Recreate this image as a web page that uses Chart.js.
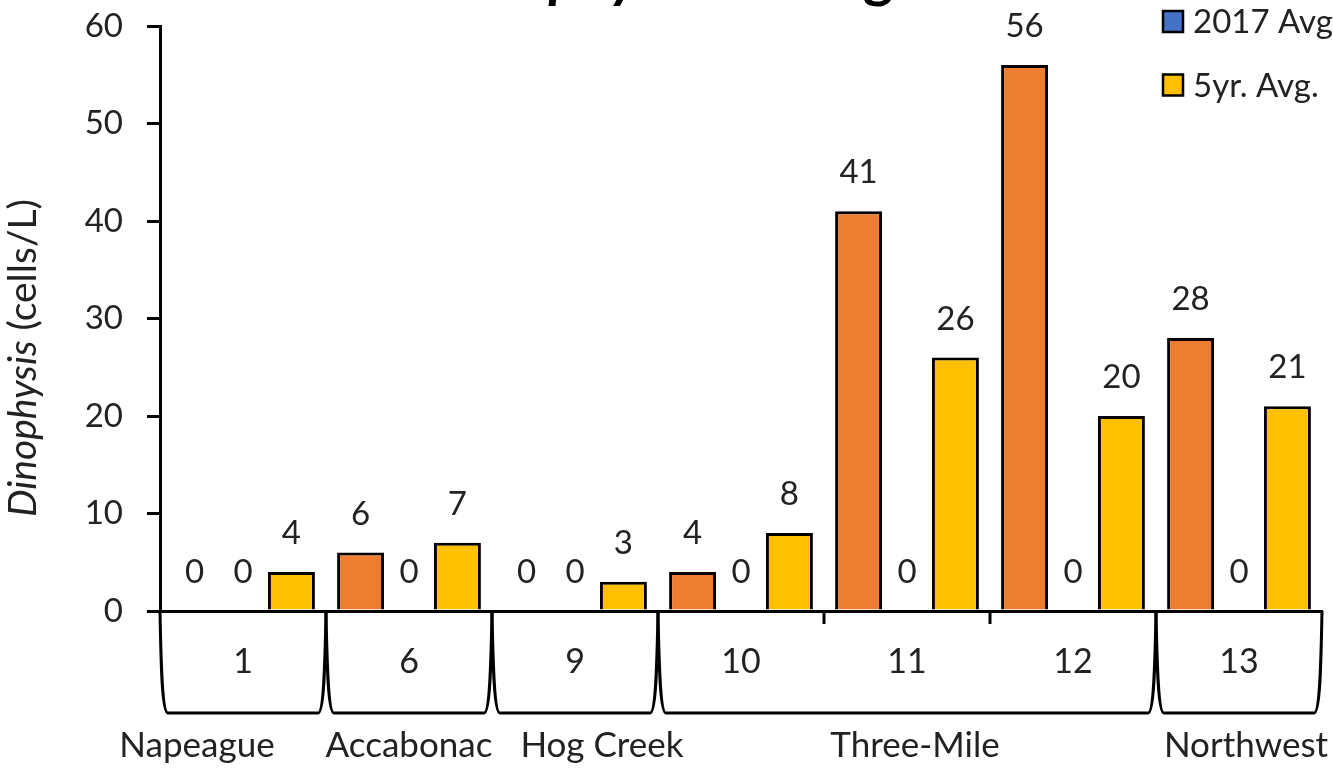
<!DOCTYPE html>
<html>
<head>
<meta charset="utf-8">
<title>Dinophysis Averages</title>
<script src="https://cdn.jsdelivr.net/npm/chart.js@4.4.1/dist/chart.umd.min.js"></script>
<style>
  html, body { margin: 0; padding: 0; background: #fff; }
  #wrap { width: 1333px; height: 769px; position: relative; overflow: hidden; }
</style>
</head>
<body>
<div id="wrap"><canvas id="chart" width="1333" height="769"></canvas></div>
<script>
// Stations (inner category level) and the harbor each group of stations belongs to
const stations = ['1', '6', '9', '10', '11', '12', '13'];
const harbors = ['Napeague', 'Accabonac', 'Hog Creek', 'Three-Mile', 'Northwest'];
const stationsPerHarbor = [1, 1, 1, 3, 1];

// Dinophysis cell counts (cells/L)
const avg2018 = [0, 6, 0, 4, 41, 56, 28];
const avg2017 = [0, 0, 0, 0, 0, 0, 0];
const avg5yr = [4, 7, 3, 8, 26, 20, 21];

const seriesNames = ['2018 Avg.', '2017 Avg.', '5yr. Avg.'];
const seriesColors = ['#ED7D31', '#4472C4', '#FFC000'];
const yTicks = [0, 10, 20, 30, 40, 50, 60];

const FONT = 'Lato, "Open Sans", sans-serif';
const TEXT = '#222222';

// Value labels above every bar
const valueLabels = {
  id: 'valueLabels',
  afterDatasetsDraw(chart) {
    const { ctx } = chart;
    ctx.save();
    ctx.font = `33px ${FONT}`;
    ctx.fillStyle = TEXT;
    ctx.textAlign = 'center';
    ctx.textBaseline = 'alphabetic';
    chart.data.datasets.forEach((ds, i) => {
      chart.getDatasetMeta(i).data.forEach((bar, j) => {
        ctx.fillText(String(ds.data[j]), bar.x, bar.y - 28);
      });
    });
    ctx.restore();
  }
};

// Harbor brackets and names under the station labels
const harborAxis = {
  id: 'harborAxis',
  afterDraw(chart, args, opts) {
    const { ctx, chartArea } = chart;
    const x = chart.scales.x;
    const top = chartArea.bottom;
    const bottom = top + 102;
    const half = (x.getPixelForValue(1) - x.getPixelForValue(0)) / 2;
    ctx.save();
    ctx.strokeStyle = '#000';
    ctx.lineWidth = 3;
    ctx.font = `35px ${FONT}`;
    ctx.fillStyle = TEXT;
    ctx.textAlign = 'center';
    ctx.textBaseline = 'alphabetic';
    let first = 0;
    harbors.forEach((name, g) => {
      const n = stationsPerHarbor[g];
      const x0 = x.getPixelForValue(first) - half;
      const x1 = x.getPixelForValue(first + n - 1) + half;
      ctx.beginPath();
      ctx.moveTo(x0, top);
      ctx.bezierCurveTo(x0 + 1, top + 55, x0 + 2, bottom, x0 + 8, bottom);
      ctx.lineTo(x1 - 8, bottom);
      ctx.bezierCurveTo(x1 - 2, bottom, x1 - 1, top + 55, x1, top);
      ctx.stroke();
      for (let k = 1; k < n; k++) {
        const xt = x.getPixelForValue(first + k) - half;
        ctx.beginPath();
        ctx.moveTo(xt, top);
        ctx.lineTo(xt, top + 13);
        ctx.stroke();
      }
      ctx.fillText(name, (x0 + x1) / 2 + opts.nudge[g], bottom + 44);
      first += n;
    });
    ctx.restore();
  }
};

// Rotated y-axis title with the genus name in italics
const yTitle = {
  id: 'yTitle',
  afterDraw(chart) {
    const { ctx } = chart;
    const partA = 'Dinophysis';
    const partB = ' (cells/L)';
    ctx.save();
    ctx.translate(36, 358);
    ctx.rotate(-Math.PI / 2);
    ctx.fillStyle = TEXT;
    ctx.textBaseline = 'alphabetic';
    ctx.textAlign = 'left';
    ctx.font = `italic 39px ${FONT}`;
    const wA = ctx.measureText(partA).width;
    ctx.font = `39px ${FONT}`;
    const wB = ctx.measureText(partB).width;
    const start = -(wA + wB) / 2;
    ctx.font = `italic 39px ${FONT}`;
    ctx.fillText(partA, start, 0);
    ctx.font = `39px ${FONT}`;
    ctx.fillText(partB, start + wA, 0);
    ctx.restore();
  }
};

// Chart title, sitting mostly above the canvas edge; only descenders reach into view
const topTitle = {
  id: 'topTitle',
  afterDraw(chart) {
    const { ctx } = chart;
    ctx.save();
    ctx.fillStyle = '#000';
    ctx.textBaseline = 'alphabetic';
    ctx.textAlign = 'left';
    ctx.font = `italic bold 58px ${FONT}`;
    const a = 'Dinophysis';
    const wA = ctx.measureText(a).width;
    const desc = ctx.measureText('p').actualBoundingBoxDescent || 11;
    const baseline = 6 - desc;
    ctx.fillText(a, 432, baseline);
    ctx.font = `bold 58px ${FONT}`;
    ctx.fillText(' Averages', 432 + wA, baseline);
    ctx.restore();
  }
};

// Legend in the top-right corner, built from the datasets
const cornerLegend = {
  id: 'cornerLegend',
  afterDraw(chart) {
    const { ctx } = chart;
    ctx.save();
    ctx.font = `33px ${FONT}`;
    ctx.textBaseline = 'middle';
    ctx.textAlign = 'left';
    chart.data.datasets.forEach((ds, i) => {
      const cy = -42 + i * 63.5;
      ctx.fillStyle = ds.backgroundColor;
      ctx.fillRect(1163, cy - 10.5, 20, 21);
      ctx.strokeStyle = '#000';
      ctx.lineWidth = 2.5;
      ctx.strokeRect(1163, cy - 10.5, 20, 21);
      ctx.fillStyle = TEXT;
      ctx.fillText(ds.label, 1193, cy + 1);
    });
    ctx.restore();
  }
};

const datasets = [avg2018, avg2017, avg5yr].map((values, i) => ({
  label: seriesNames[i],
  data: values,
  backgroundColor: seriesColors[i],
  borderColor: '#000',
  borderWidth: 3,
  borderSkipped: 'start'
}));

new Chart(document.getElementById('chart'), {
  type: 'bar',
  data: { labels: stations, datasets },
  options: {
    responsive: false,
    animation: false,
    layout: { padding: { top: 26, right: 11, left: 0, bottom: 0 } },
    datasets: { bar: { categoryPercentage: 0.875, barPercentage: 0.97 } },
    plugins: {
      legend: { display: false },
      tooltip: { enabled: false },
      harborAxis: { nudge: [-46, 0, 27, 8, 7] }
    },
    scales: {
      x: {
        grid: { display: false, drawTicks: false },
        border: { display: true, color: '#000', width: 3 },
        ticks: { font: { family: FONT, size: 34 }, color: TEXT, padding: 31, maxRotation: 0 },
        afterFit(s) { s.height = 158; s.paddingLeft = 0; s.paddingRight = 0; }
      },
      y: {
        min: 0,
        max: 60,
        afterBuildTicks(s) { s.ticks = yTicks.map(v => ({ value: v })); },
        grid: { drawOnChartArea: false, drawTicks: true, tickLength: 13, color: '#000', lineWidth: 3 },
        border: { display: true, color: '#000', width: 3 },
        ticks: { font: { family: FONT, size: 33 }, color: TEXT, padding: 24 },
        afterFit(s) { s.width = 160; s.paddingTop = 0; s.paddingBottom = 0; }
      }
    }
  },
  plugins: [valueLabels, harborAxis, yTitle, topTitle, cornerLegend]
});
</script>
</body>
</html>
